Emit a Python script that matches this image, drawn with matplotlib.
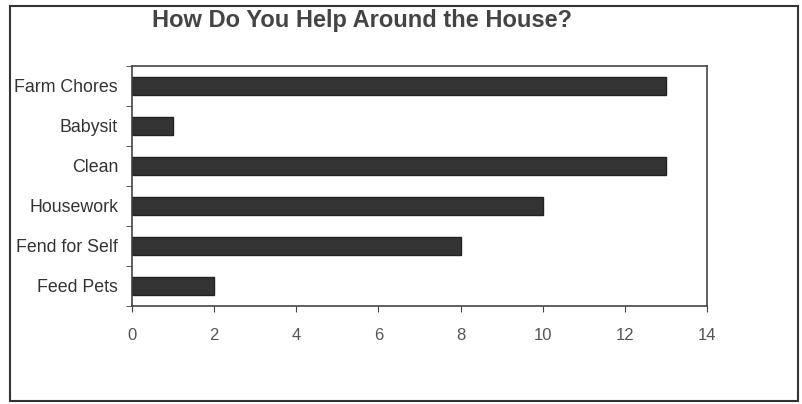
import matplotlib.pyplot as plt
from matplotlib.patches import Rectangle
from matplotlib.ticker import FixedLocator

plt.rcParams['font.family'] = ['Liberation Sans', 'DejaVu Sans']

categories = ["Farm Chores", "Babysit", "Clean", "Housework", "Fend for Self", "Feed Pets"]
counts = [13, 1, 13, 10, 8, 2]
xticks = [0, 2, 4, 6, 8, 10, 12, 14]

fig = plt.figure(figsize=(8.03, 4.04), dpi=100)
fig.patch.set_facecolor("white")

# outer frame around the whole chart
fig.patches.append(Rectangle((10 / 803, 3 / 404), 788 / 803, 395 / 404,
                             transform=fig.transFigure, fill=False,
                             edgecolor="#333333", linewidth=1.5))

ax = fig.add_axes([132 / 803, 1 - 306 / 404, 575 / 803, 240 / 404])

pos = list(range(len(categories)))
ax.barh(pos, counts, height=0.45, color="#333333", edgecolor="#222222")

ax.set_xlim(0, 14)
ax.set_ylim(len(categories) - 0.5, -0.5)
ax.set_xticks(xticks)
ax.set_xticklabels([str(t) for t in xticks], color="#555555", fontsize=12)
ax.set_yticks(pos)
ax.set_yticklabels(categories, color="#333333", fontsize=12.8)
ax.yaxis.set_minor_locator(FixedLocator([p + 0.5 for p in range(-1, len(categories))]))

ax.tick_params(axis="y", which="major", length=0, pad=10)
ax.tick_params(axis="y", which="minor", length=4, color="#444444", direction="out")
ax.tick_params(axis="x", length=4, color="#444444", direction="out", pad=12)

for s in ax.spines.values():
    s.set_color("#444444")
    s.set_linewidth(1.2)

fig.text(362 / 803, 1 - 21 / 404, "How Do You Help Around the House?",
         ha="center", va="center", fontsize=17, fontweight="bold", color="#444444")

fig.savefig("out.png", dpi=100)
